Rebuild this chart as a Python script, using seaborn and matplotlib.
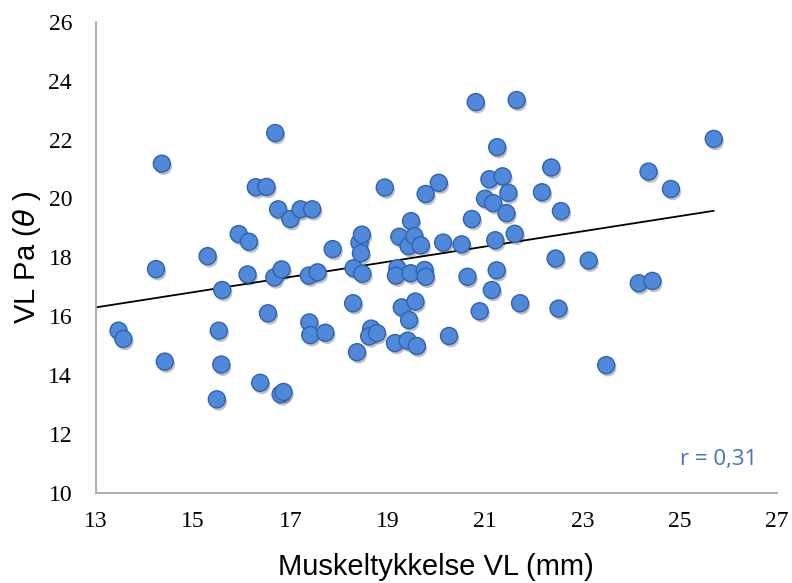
import numpy as np
import pandas as pd
import matplotlib
matplotlib.use("Agg")
import matplotlib.pyplot as plt
import matplotlib.patheffects as pe
import seaborn as sns

# Muscle thickness of vastus lateralis (mm)
thickness = [
    13.47, 13.57, 14.24, 14.36, 14.42, 15.30, 15.53, 15.49, 15.60, 15.58,
    15.94, 16.15, 16.12, 16.29, 16.51, 16.38, 16.54, 16.69, 16.67, 16.75,
    16.82, 16.80, 16.86, 17.00, 17.21, 17.45, 17.38, 17.56, 17.39, 17.41,
    17.72, 17.87, 18.37, 18.29, 18.30, 18.42, 18.47, 18.45, 18.48, 18.66,
    18.62, 18.78, 18.94, 19.15, 19.20, 19.17, 19.24, 19.29, 19.41, 19.44,
    19.43, 19.48, 19.47, 19.55, 19.57, 19.60, 19.76, 19.68, 19.78, 19.78,
    20.05, 20.14, 20.26, 20.52, 20.64, 20.73, 20.81, 20.89, 21.00, 21.09,
    21.14, 21.17, 21.21, 21.25, 21.24, 21.36, 21.44, 21.48, 21.61, 21.65,
    21.72, 22.17, 22.36, 22.45, 22.51, 22.56, 23.13, 23.49, 24.16, 24.36,
    24.44, 24.82, 25.70,
]

# Pennation angle of vastus lateralis (degrees)
pennation = [
    15.51, 15.23, 17.60, 21.18, 14.46, 18.04, 15.51, 13.18, 16.89, 14.36,
    18.79, 18.53, 17.42, 20.38, 20.39, 13.74, 16.10, 22.22, 17.32, 19.63,
    17.59, 13.35, 13.43, 19.30, 19.63, 19.63, 17.38, 17.49, 15.79, 15.36,
    15.44, 18.28, 14.78, 16.44, 17.63, 18.50, 18.77, 18.14, 17.44, 15.58,
    15.32, 15.43, 20.37, 15.09, 17.63, 17.38, 18.70, 16.30, 15.17, 15.87,
    18.38, 19.23, 17.46, 18.72, 16.50, 14.99, 17.57, 18.41, 20.15, 17.34,
    20.53, 18.50, 15.33, 18.44, 17.34, 19.30, 23.27, 16.17, 19.99, 20.65,
    16.89, 19.84, 18.58, 21.74, 17.56, 20.75, 19.50, 20.19, 18.80, 23.34,
    16.44, 20.21, 21.05, 17.96, 16.26, 19.57, 17.89, 14.34, 17.12, 20.91,
    17.20, 20.32, 22.02,
]

# Linear trendline end points (thickness, pennation)
trend_x = [13.0, 25.70]
trend_y = [16.30, 19.58]

x_ticks = [13, 15, 17, 19, 21, 23, 25, 27]
y_ticks = [10, 12, 14, 16, 18, 20, 22, 24, 26]
r_label = "r = 0,31"

df = pd.DataFrame({"thickness": thickness, "pennation": pennation})
trend = pd.DataFrame({"x": trend_x, "y": trend_y})

sns.set_style("white")
plt.rcParams["font.family"] = ["Liberation Sans", "DejaVu Sans"]

fig = plt.figure(figsize=(7.92, 5.83), dpi=100)
ax = fig.add_axes([0.1208, 0.1544, 0.8603, 0.8084])

sns.lineplot(data=trend, x="x", y="y", ax=ax, color="black", linewidth=1.3, zorder=2)

pts = sns.scatterplot(
    data=df, x="thickness", y="pennation", ax=ax,
    s=150, color="#5189DA", edgecolor="#2F62B0", linewidth=1.0, zorder=3,
)
pts.collections[-1].set_path_effects(
    [pe.SimplePatchShadow(offset=(1.2, -2.0), shadow_rgbFace="#000000", alpha=0.25), pe.Normal()]
)

ax.set_xlim(x_ticks[0], x_ticks[-1])
ax.set_ylim(y_ticks[0], y_ticks[-1])
ax.set_xticks(x_ticks)
ax.set_yticks(y_ticks)
ax.set_xticklabels([str(t) for t in x_ticks], fontfamily="Liberation Serif", fontsize=17)
ax.set_yticklabels([str(t) for t in y_ticks], fontfamily="Liberation Serif", fontsize=17)

for side in ("top", "right"):
    ax.spines[side].set_visible(False)
for side in ("left", "bottom"):
    ax.spines[side].set_color("#A6A6A6")
    ax.spines[side].set_linewidth(1.3)
ax.tick_params(axis="both", direction="out", length=5, width=1.3, color="#A6A6A6",
               labelcolor="#000000")
ax.tick_params(axis="x", pad=8)
ax.tick_params(axis="y", pad=12)

ax.set_xlabel("Muskeltykkelse VL (mm)", fontsize=21, color="#000000", labelpad=15)
ax.set_ylabel(r"VL Pa ($\theta$ )", fontsize=21, color="#000000", labelpad=4)

ax.text(25.0, 10.95, r_label, fontsize=16, color="#4472C4", fontfamily="Open Sans",
        ha="left", va="baseline")

fig.savefig("out.png", dpi=100)
